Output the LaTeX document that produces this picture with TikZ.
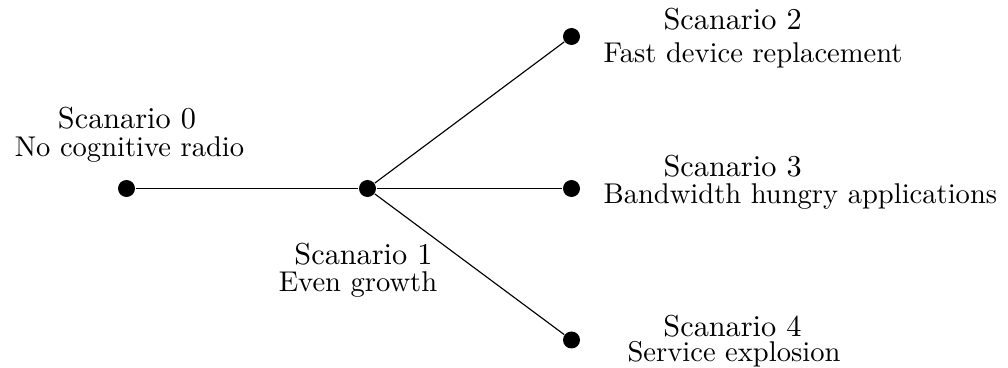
\documentclass[tikz,border=0pt]{standalone}
\begin{document}
\begin{tikzpicture}[x=0.35pt,y=-0.35pt,
  dot/.style={circle,fill=black,inner sep=0pt,minimum size=5.95pt},
  title/.style={inner sep=0pt,font=\fontsize{10.6}{12.7}\selectfont},
  desc/.style={inner sep=0pt,font=\fontsize{10}{12}\selectfont}]
\useasboundingbox (0,0) rectangle (1008,368);

% scenario points
\node[dot] (s0) at (126.5,188.5) {};
\node[dot] (s1) at (367.5,188.5) {};
\node[dot] (s2) at (571.5,36.5) {};
\node[dot] (s3) at (571.5,188.5) {};
\node[dot] (s4) at (571.5,340) {};

% branches
\draw (s0) -- (s1);
\draw (s1) -- (s2);
\draw (s1) -- (s3);
\draw (s1) -- (s4);

% labels
\node[title,anchor=base] (t0) at (127,129) {Scanario 0};
\node[desc,anchor=base] (l0) at (129.5,157) {No cognitive radio};

\node[title,anchor=base] (t1) at (363.5,265) {Scanario 1};
\node[desc,anchor=base] (l1) at (358,291) {Even growth};

\node[title,anchor=base west] (t2) at (663,30) {Scanario 2};
\node[desc,anchor=base west] (l2) at (603,63) {Fast device replacement};

\node[title,anchor=base west] (t3) at (663,177) {Scanario 3};
\node[desc,anchor=base west] (l3) at (603,204) {Bandwidth hungry applications};

\node[title,anchor=base] (t4) at (732.5,337) {Scanario 4};
\node[desc,anchor=base] (l4) at (734,362) {Service explosion};
\end{tikzpicture}
\end{document}
